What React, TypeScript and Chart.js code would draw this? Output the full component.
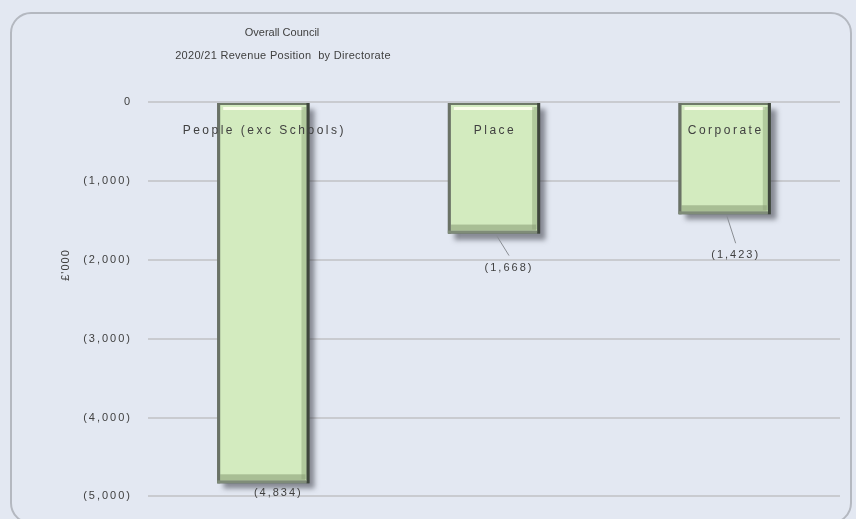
import React, { useEffect, useRef } from "react";
import { Chart, registerables } from "chart.js";

Chart.register(...registerables);

const categories = ["People (exc Schools)", "Place", "Corporate"];
const values = [-4834, -1668, -1423];
const valueLabels = ["(4,834)", "(1,668)", "(1,423)"];
const titleLines = ["Overall Council", "2020/21 Revenue Position  by Directorate"];
const yAxisTitle = "£'000";

// label offsets relative to the bar (styling only)
const valueLabelOffsets = [
  { dx: 15, dy: 10, leader: false },
  { dx: 15, dy: 34, leader: true },
  { dx: 11, dy: 41, leader: true },
];

const FONT = "'Liberation Sans', Arial, sans-serif";
const TEXT = "#404040";

function fmt(v: number) {
  if (v === 0) return "0";
  const s = Math.abs(v).toLocaleString("en-US");
  return v < 0 ? `(${s})` : s;
}

const decorPlugin = {
  id: "decor",
  beforeDraw(chart: any) {
    const ctx = chart.ctx;
    ctx.save();
    ctx.fillStyle = "#e3e8f2";
    ctx.fillRect(0, 0, chart.width, chart.height);
    ctx.strokeStyle = "#b4b8c0";
    ctx.lineWidth = 2;
    ctx.beginPath();
    ctx.roundRect(11, 13, 840, 510, 20);
    ctx.stroke();
    // titles
    ctx.fillStyle = TEXT;
    ctx.textAlign = "center";
    ctx.textBaseline = "middle";
    ctx.font = `11px ${FONT}`;
    ctx.fillText(titleLines[0], 282, 33);
    (ctx as any).letterSpacing = "0.3px";
    ctx.fillText(titleLines[1], 283, 56);
    (ctx as any).letterSpacing = "0px";
    // y axis title
    ctx.translate(66, 265);
    ctx.rotate(-Math.PI / 2);
    ctx.font = `11px ${FONT}`;
    (ctx as any).letterSpacing = "1px";
    ctx.fillText(yAxisTitle, 0, 0);
    ctx.restore();
    (ctx as any).letterSpacing = "2px";
  },
  beforeDatasetsDraw(chart: any) {
    const ctx = chart.ctx;
    const meta = chart.getDatasetMeta(0);
    ctx.save();
    (ctx as any).letterSpacing = "0px";
    meta.data.forEach((bar: any) => {
      const w = bar.width;
      const left = bar.x - w / 2;
      const top = Math.min(bar.y, bar.base);
      const h = Math.abs(bar.y - bar.base);
      ctx.shadowColor = "rgba(50,52,60,0.7)";
      ctx.shadowBlur = 5;
      ctx.shadowOffsetX = 6;
      ctx.shadowOffsetY = 6;
      ctx.fillStyle = "rgba(80,85,95,0.75)";
      ctx.fillRect(left, top, w, h);
    });
    ctx.restore();
  },
  afterDatasetsDraw(chart: any) {
    const ctx = chart.ctx;
    const meta = chart.getDatasetMeta(0);
    ctx.save();
    meta.data.forEach((bar: any, i: number) => {
      const w = bar.width;
      const left = bar.x - w / 2;
      const right = bar.x + w / 2;
      const top = Math.min(bar.y, bar.base);
      const bottom = Math.max(bar.y, bar.base);
      // highlight near top
      ctx.fillStyle = "rgba(255,255,240,0.9)";
      ctx.fillRect(left + 6, top + 4, w - 12, 3);
      // inner bevels
      ctx.fillStyle = "rgba(150,175,130,0.55)";
      ctx.fillRect(right - 8, top + 4, 5, bottom - top - 8);
      ctx.fillStyle = "rgba(140,160,120,0.6)";
      ctx.fillRect(left + 3, bottom - 9, w - 7, 6);
      // dark edges
      ctx.fillStyle = "#3e463c";
      ctx.fillRect(right - 3, top, 3, bottom - top);
      ctx.fillStyle = "#6a7266";
      ctx.fillRect(left, top, 3, bottom - top);
      ctx.fillStyle = "#7f8c78";
      ctx.fillRect(left, bottom - 3, w - 3, 3);

      // category label
      ctx.fillStyle = TEXT;
      ctx.textAlign = "center";
      ctx.textBaseline = "middle";
      ctx.font = `12px ${FONT}`;
      (ctx as any).letterSpacing = "2.5px";
      ctx.fillText(categories[i], bar.x + 1, top + 28);

      // value label
      const o = valueLabelOffsets[i];
      if (o.leader) {
        ctx.strokeStyle = "#8a8e94";
        ctx.lineWidth = 1;
        ctx.beginPath();
        ctx.moveTo(bar.x + 2, bottom + 1);
        ctx.lineTo(bar.x + o.dx, bottom + o.dy - 12);
        ctx.stroke();
      }
      ctx.font = `11px ${FONT}`;
      (ctx as any).letterSpacing = "2px";
      ctx.fillStyle = TEXT;
      ctx.fillText(valueLabels[i], bar.x + o.dx, bottom + o.dy);
    });
    ctx.restore();
  },
};

export default function App() {
  const ref = useRef<HTMLCanvasElement | null>(null);
  useEffect(() => {
    document.body.style.margin = "0";
    const canvas = ref.current!;
    const chart = new Chart(canvas, {
      type: "bar",
      data: {
        labels: categories,
        datasets: [
          {
            data: values,
            backgroundColor: "#d3ebbf",
            borderColor: "#6f7a68",
            borderWidth: 2,
            borderSkipped: false,
            barPercentage: 0.4,
            categoryPercentage: 1,
          },
        ],
      },
      options: {
        animation: false,
        responsive: false,
        maintainAspectRatio: false,
        layout: { padding: { top: 102, bottom: 22, right: 16, left: 0 } },
        plugins: {
          legend: { display: false },
          tooltip: { enabled: false },
          title: { display: false },
        },
        scales: {
          x: { display: false },
          y: {
            min: -5000,
            max: 0,
            afterFit: (s: any) => {
              s.width = 148;
            },
            border: { display: false },
            grid: { color: "#c9cbd0", lineWidth: 2, drawTicks: false },
            ticks: {
              stepSize: 1000,
              padding: 16,
              color: TEXT,
              font: { family: FONT, size: 11 },
              callback: (v: any) => fmt(Number(v)),
            },
          },
        },
      },
      plugins: [decorPlugin],
    });
    return () => chart.destroy();
  }, []);
  return (
    <div style={{ width: 856, height: 519 }}>
      <canvas ref={ref} width={856} height={519} style={{ display: "block" }} />
    </div>
  );
}
